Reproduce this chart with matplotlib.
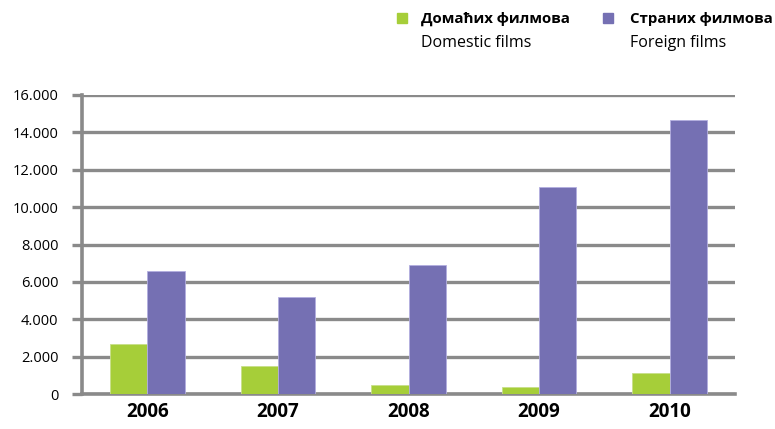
import matplotlib.pyplot as plt
import matplotlib.patches as mpatches
import numpy as np

plt.rcParams['font.family'] = ['Open Sans', 'DejaVu Sans']

# data
years = ['2006', '2007', '2008', '2009', '2010']
domestic = [2680, 1520, 500, 350, 1130]
foreign = [6600, 5200, 6910, 11100, 14640]
yticks = [0, 2000, 4000, 6000, 8000, 10000, 12000, 14000, 16000]
ytick_labels = ['0', '2.000', '4.000', '6.000', '8.000', '10.000', '12.000', '14.000', '16.000']

green = '#a6ce39'
purple = '#7570b3'
grey = '#8a8a8a'

fig = plt.figure(figsize=(7.75, 4.29), dpi=100)
ax = fig.add_axes([82/775, 1-394/429, 653/775, 299/429])

x = np.arange(len(years))
w = 0.285
ax.bar(x - w/2, domestic, w, color=green, edgecolor='#c8e08a', linewidth=0.6, zorder=3)
ax.bar(x + w/2, foreign, w, color=purple, edgecolor='#b3aee0', linewidth=0.6, zorder=3)

ax.set_xlim(-0.5, len(years) - 0.5)
ax.set_ylim(0, 16000)
ax.set_yticks(yticks)
ax.set_yticklabels(ytick_labels, fontsize=10.5)
ax.set_xticks(x)
ax.set_xticklabels(years, fontsize=13.5, fontweight='bold')

ax.yaxis.grid(True, color=grey, linewidth=2.4, zorder=1)
ax.tick_params(axis='y', length=7, width=2.4, color=grey, pad=10)
ax.tick_params(axis='x', length=0, pad=6)
for s in ['top', 'right']:
    ax.spines[s].set_visible(False)
for s in ['left', 'bottom']:
    ax.spines[s].set_color(grey)
    ax.spines[s].set_linewidth(2.6)
ax.set_axisbelow(True)

# legend drawn by hand
fig.patches.append(mpatches.Rectangle((397/775, 1-23/429), 10/775, 10/429,
                                      color=green, transform=fig.transFigure))
fig.patches.append(mpatches.Rectangle((603/775, 1-23/429), 10/775, 10/429,
                                      color=purple, transform=fig.transFigure))
fig.text(421/775, 1-19/429, 'Домаћих филмова', fontsize=10.8, fontweight='bold', va='center')
fig.text(421/775, 1-43/429, 'Domestic films', fontsize=11.5, va='center')
fig.text(630/775, 1-19/429, 'Страних филмова', fontsize=10.8, fontweight='bold', va='center')
fig.text(630/775, 1-43/429, 'Foreign films', fontsize=11.5, va='center')

fig.savefig('out.png', dpi=100)
